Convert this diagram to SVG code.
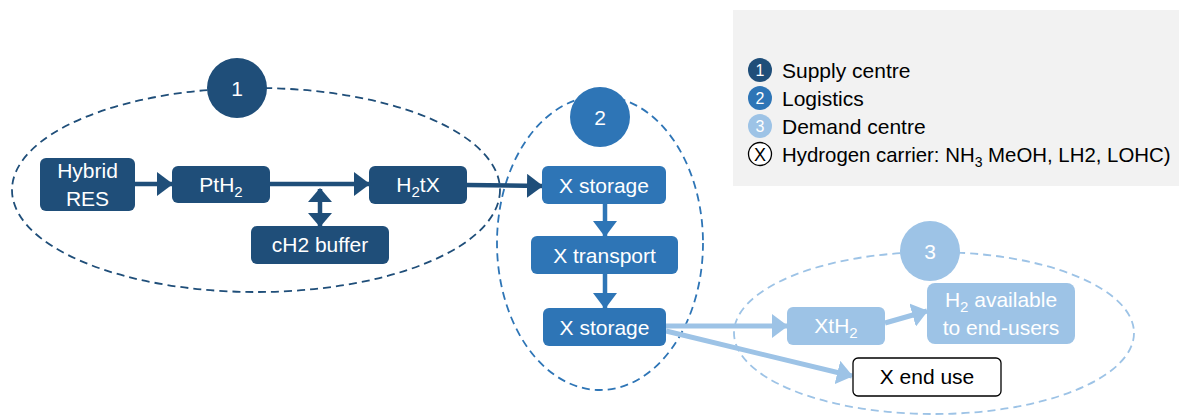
<svg xmlns="http://www.w3.org/2000/svg" width="1179" height="418" viewBox="0 0 1179 418">
<style>
text{font-family:"Liberation Sans",Arial,sans-serif;font-size:21px}
.wt{fill:#ffffff;text-anchor:middle}
.bk{fill:#000000}
.n1{fill:#1f4e79}
.n2{fill:#2e75b6}
.n3{fill:#9dc3e6}
.e1{fill:none;stroke:#1f4e79;stroke-width:1.8;stroke-dasharray:8 5}
.e2{fill:none;stroke:#2e75b6;stroke-width:1.8;stroke-dasharray:8 5}
.e3{fill:none;stroke:#9dc3e6;stroke-width:1.8;stroke-dasharray:8 5}
.c1{stroke:#1f4e79;stroke-width:4.5;fill:none}
.c2{stroke:#2e75b6;stroke-width:4.5;fill:none}
.c3{stroke:#9dc3e6;stroke-width:5;fill:none}
</style>
<defs>
<marker id="a1" viewBox="0 0 16 24" refX="15" refY="12" markerWidth="16" markerHeight="24" markerUnits="userSpaceOnUse" orient="auto-start-reverse"><path d="M0,0 L16,12 L0,24 z" fill="#1f4e79"/></marker>
<marker id="a1s" viewBox="0 0 14 24" refX="13" refY="12" markerWidth="14" markerHeight="24" markerUnits="userSpaceOnUse" orient="auto-start-reverse"><path d="M0,0 L14,12 L0,24 z" fill="#1f4e79"/></marker>
<marker id="a2" viewBox="0 0 16 24" refX="15" refY="12" markerWidth="16" markerHeight="24" markerUnits="userSpaceOnUse" orient="auto"><path d="M0,0 L16,12 L0,24 z" fill="#2e75b6"/></marker>
<marker id="a3" viewBox="0 0 16 24" refX="15" refY="12" markerWidth="16" markerHeight="24" markerUnits="userSpaceOnUse" orient="auto"><path d="M0,0 L16,12 L0,24 z" fill="#9dc3e6"/></marker>
</defs>
<rect width="1179" height="418" fill="#ffffff"/>
<g id="legend">
<rect x="733" y="10" width="450" height="176" fill="#f2f2f2"/>
<circle cx="760" cy="70" r="12" class="n1"/><text x="760" y="76" class="wt" style="font-size:16px">1</text>
<text x="782" y="78" class="bk">Supply centre</text>
<circle cx="760" cy="98" r="12" class="n2"/><text x="760" y="104" class="wt" style="font-size:16px">2</text>
<text x="782" y="106" class="bk">Logistics</text>
<circle cx="760" cy="126" r="12" class="n3"/><text x="760" y="132" class="wt" style="font-size:16px">3</text>
<text x="782" y="134" class="bk">Demand centre</text>
<circle cx="760" cy="154" r="11.5" fill="#ffffff" stroke="#000000" stroke-width="1.3"/><text x="760" y="161" class="bk" text-anchor="middle" style="font-size:18px">X</text>
<text x="782" y="162" class="bk" style="font-size:20.4px">Hydrogen carrier: NH<tspan dy="5" style="font-size:14px">3</tspan><tspan dy="-5"> MeOH, LH2, LOHC)</tspan></text>
</g>
<g id="zones">
<ellipse cx="256" cy="190" rx="244" ry="102" class="e1"/>
<ellipse cx="600" cy="243" rx="103" ry="147" class="e2"/>
<ellipse cx="934" cy="333" rx="200" ry="81" class="e3"/>
</g>
<g id="connectors">
<line x1="135" y1="184" x2="172" y2="184" class="c1" marker-end="url(#a1)"/>
<line x1="270" y1="184" x2="369" y2="184" class="c1" marker-end="url(#a1)"/>
<line x1="320" y1="189" x2="320" y2="226" class="c1" marker-start="url(#a1s)" marker-end="url(#a1s)"/>
<line x1="467" y1="185" x2="542" y2="186" class="c1" marker-end="url(#a1)"/>
<line x1="605" y1="204" x2="605" y2="236" class="c2" marker-end="url(#a2)"/>
<line x1="605" y1="274" x2="605" y2="308" class="c2" marker-end="url(#a2)"/>
<line x1="666" y1="326" x2="787" y2="326" class="c3" marker-end="url(#a3)"/>
<line x1="666" y1="331" x2="852" y2="376" class="c3" marker-end="url(#a3)"/>
<line x1="885" y1="323" x2="927" y2="311" class="c3" marker-end="url(#a3)"/>
</g>
<g id="badge1"><circle cx="237" cy="88" r="30" class="n1"/><text x="237" y="96" class="wt">1</text></g>
<g id="badge2"><circle cx="600" cy="117" r="30" class="n2"/><text x="600" y="125" class="wt">2</text></g>
<g id="badge3"><circle cx="930" cy="251" r="30" class="n3"/><text x="930" y="259" class="wt">3</text></g>
<g id="hybrid-res"><rect x="40" y="158" width="95" height="53" rx="6" class="n1"/><text x="87.5" y="178" class="wt">Hybrid</text><text x="87.5" y="206" class="wt">RES</text></g>
<g id="pth2"><rect x="172" y="166" width="98" height="37" rx="6" class="n1"/><text x="221" y="192" class="wt">PtH<tspan dy="5" style="font-size:15px">2</tspan></text></g>
<g id="h2tx"><rect x="369" y="166" width="98" height="38" rx="6" class="n1"/><text x="418" y="192" class="wt">H<tspan dy="5" style="font-size:15px">2</tspan><tspan dy="-5">tX</tspan></text></g>
<g id="ch2-buffer"><rect x="251" y="226" width="138" height="38" rx="6" class="n1"/><text x="320" y="252" class="wt">cH2 buffer</text></g>
<g id="x-storage-1"><rect x="542" y="166" width="124" height="38" rx="6" class="n2"/><text x="604" y="193" class="wt">X storage</text></g>
<g id="x-transport"><rect x="531" y="236" width="147" height="38" rx="6" class="n2"/><text x="604.5" y="263" class="wt">X transport</text></g>
<g id="x-storage-2"><rect x="543" y="308" width="123" height="38" rx="6" class="n2"/><text x="604.5" y="335" class="wt">X storage</text></g>
<g id="xth2"><rect x="787" y="307" width="98" height="38" rx="6" class="n3"/><text x="836" y="333" class="wt">XtH<tspan dy="5" style="font-size:15px">2</tspan></text></g>
<g id="h2-available"><rect x="927" y="283" width="148" height="61" rx="8" class="n3"/><text x="1001" y="307" class="wt">H<tspan dy="5" style="font-size:15px">2</tspan><tspan dy="-5"> available</tspan></text><text x="1001" y="335" class="wt">to end-users</text></g>
<g id="x-end-use"><rect x="853" y="358" width="148" height="38" rx="5" fill="#ffffff" stroke="#000000" stroke-width="1.3"/><text x="927" y="384" class="bk" text-anchor="middle">X end use</text></g>
</svg>
